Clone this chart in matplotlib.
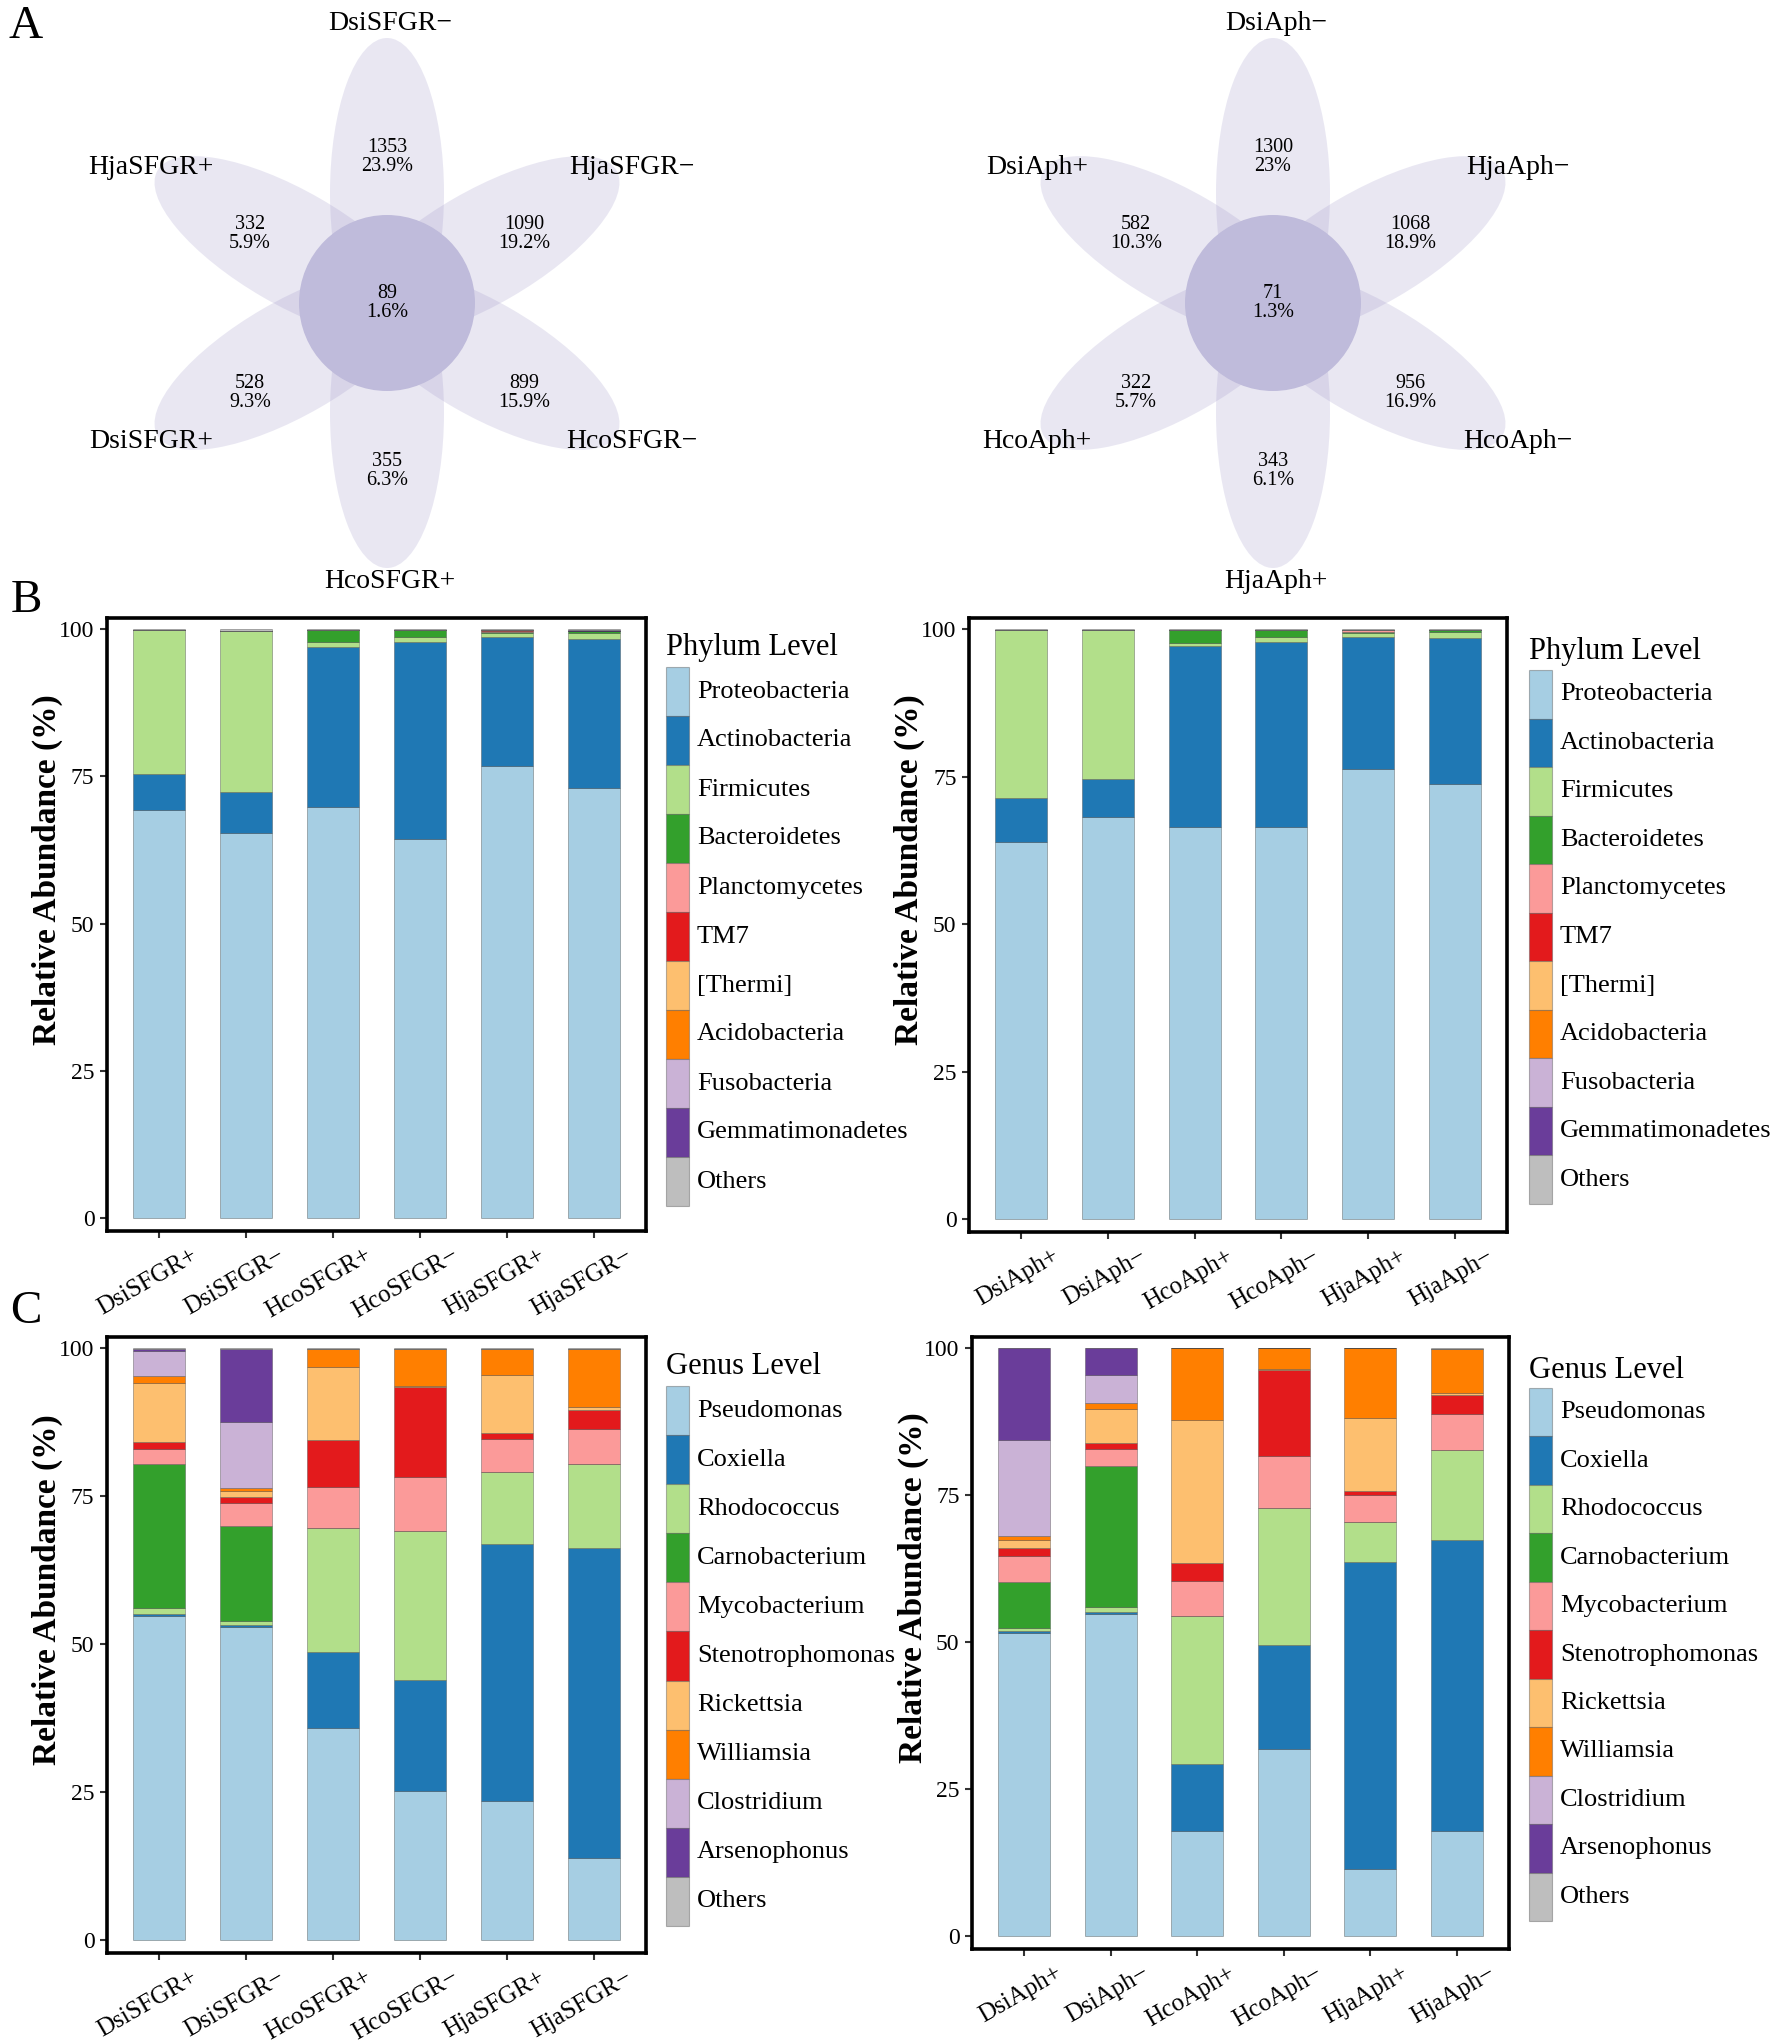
import numpy as np
import matplotlib
matplotlib.use("Agg")
import matplotlib.pyplot as plt
from matplotlib.patches import Ellipse, Circle, Rectangle
from matplotlib.transforms import ScaledTranslation

plt.rcParams['font.family'] = ['Liberation Serif', 'DejaVu Serif']

W, H = 1784, 2042

# ---- flower (Venn) data, petals clockwise from the top ----
sfgr_names = ["DsiSFGR−", "HjaSFGR−", "HcoSFGR−", "HcoSFGR+", "DsiSFGR+", "HjaSFGR+"]
sfgr_counts = [1353, 1090, 899, 355, 528, 332]
sfgr_pct = ["23.9%", "19.2%", "15.9%", "6.3%", "9.3%", "5.9%"]
sfgr_core = [89, "1.6%"]

aph_names = ["DsiAph−", "HjaAph−", "HcoAph−", "HjaAph+", "HcoAph+", "DsiAph+"]
aph_counts = [1300, 1068, 956, 343, 322, 582]
aph_pct = ["23%", "18.9%", "16.9%", "6.1%", "5.7%", "10.3%"]
aph_core = [71, "1.3%"]

# ---- stacked bar data (%) ----
sfgr_groups = ["DsiSFGR+", "DsiSFGR−", "HcoSFGR+", "HcoSFGR−", "HjaSFGR+", "HjaSFGR−"]
aph_groups = ["DsiAph+", "DsiAph−", "HcoAph+", "HcoAph−", "HjaAph+", "HjaAph−"]

phylum_names = ["Proteobacteria", "Actinobacteria", "Firmicutes", "Bacteroidetes",
                "Planctomycetes", "TM7", "[Thermi]", "Acidobacteria", "Fusobacteria",
                "Gemmatimonadetes", "Others"]
genus_names = ["Pseudomonas", "Coxiella", "Rhodococcus", "Carnobacterium", "Mycobacterium",
               "Stenotrophomonas", "Rickettsia", "Williamsia", "Clostridium", "Arsenophonus",
               "Others"]
colors = ["#A6CEE3", "#1F78B4", "#B2DF8A", "#33A02C", "#FB9A99", "#E31A1C",
          "#FDBF6F", "#FF7F00", "#CAB2D6", "#6A3D9A", "#BEBEBE"]

# phylum, SFGR samples
ph_sfgr = {
    "Proteobacteria":   [69.3, 65.4, 69.8, 64.4, 76.7, 73.1],
    "Actinobacteria":   [6.1, 6.9, 27.2, 33.5, 21.9, 25.2],
    "Firmicutes":       [24.4, 27.4, 0.9, 0.8, 0.7, 1.1],
    "Bacteroidetes":    [0.0, 0.0, 1.9, 1.1, 0.3, 0.3],
    "Planctomycetes":   [0.0, 0.0, 0.0, 0.0, 0.15, 0.0],
    "TM7":              [0.0, 0.0, 0.0, 0.0, 0.1, 0.0],
    "[Thermi]":         [0.0, 0.0, 0.0, 0.0, 0.0, 0.0],
    "Acidobacteria":    [0.0, 0.0, 0.0, 0.0, 0.0, 0.0],
    "Fusobacteria":     [0.0, 0.0, 0.0, 0.0, 0.0, 0.0],
    "Gemmatimonadetes": [0.05, 0.05, 0.0, 0.0, 0.0, 0.1],
}
# phylum, Aph samples
ph_aph = {
    "Proteobacteria":   [63.9, 68.2, 66.5, 66.4, 76.3, 73.7],
    "Actinobacteria":   [7.4, 6.4, 30.6, 31.5, 22.3, 24.8],
    "Firmicutes":       [28.6, 25.2, 0.6, 0.7, 0.7, 1.0],
    "Bacteroidetes":    [0.0, 0.0, 2.2, 1.2, 0.3, 0.3],
    "Planctomycetes":   [0.0, 0.0, 0.0, 0.0, 0.2, 0.0],
    "TM7":              [0.0, 0.0, 0.0, 0.0, 0.15, 0.0],
    "[Thermi]":         [0.0, 0.0, 0.0, 0.0, 0.0, 0.0],
    "Acidobacteria":    [0.0, 0.0, 0.0, 0.0, 0.0, 0.0],
    "Fusobacteria":     [0.0, 0.0, 0.0, 0.0, 0.0, 0.0],
    "Gemmatimonadetes": [0.0, 0.1, 0.0, 0.0, 0.0, 0.1],
}
# genus, SFGR samples
ge_sfgr = {
    "Pseudomonas":      [54.7, 52.9, 35.9, 25.2, 23.5, 13.9],
    "Coxiella":         [0.4, 0.4, 12.7, 18.8, 43.4, 52.4],
    "Rhodococcus":      [1.0, 0.6, 21.1, 25.1, 12.2, 14.2],
    "Carnobacterium":   [24.4, 16.1, 0.0, 0.0, 0.0, 0.0],
    "Mycobacterium":    [2.5, 3.8, 6.9, 9.2, 5.5, 5.9],
    "Stenotrophomonas": [1.1, 1.0, 7.9, 15.1, 1.1, 3.2],
    "Rickettsia":       [10.1, 1.0, 12.4, 0.2, 9.8, 0.4],
    "Williamsia":       [1.1, 0.6, 3.0, 6.2, 4.4, 9.8],
    "Clostridium":      [4.3, 11.1, 0.0, 0.0, 0.0, 0.0],
    "Arsenophonus":     [0.3, 12.4, 0.0, 0.0, 0.0, 0.0],
}
# genus, Aph samples
ge_aph = {
    "Pseudomonas":      [51.5, 54.7, 17.9, 31.9, 11.4, 17.9],
    "Coxiella":         [0.4, 0.4, 11.4, 17.6, 52.3, 49.5],
    "Rhodococcus":      [0.5, 0.9, 25.1, 23.3, 6.8, 15.3],
    "Carnobacterium":   [7.9, 24.0, 0.0, 0.0, 0.0, 0.0],
    "Mycobacterium":    [4.4, 2.8, 6.0, 8.8, 4.6, 6.1],
    "Stenotrophomonas": [1.3, 1.1, 3.0, 14.7, 0.6, 3.2],
    "Rickettsia":       [1.3, 5.8, 24.4, 0.2, 12.5, 0.4],
    "Williamsia":       [0.7, 1.0, 12.2, 3.5, 11.8, 7.5],
    "Clostridium":      [16.3, 4.8, 0.0, 0.0, 0.0, 0.0],
    "Arsenophonus":     [15.7, 4.5, 0.0, 0.0, 0.0, 0.0],
}


def frac(x0, y0, x1, y1):
    # pixel box (top-left origin) -> figure fraction rect
    return [x0 / W, 1 - y1 / H, (x1 - x0) / W, (y1 - y0) / H]


fig = plt.figure(figsize=(W / 100, H / 100), dpi=100)

# ---------------- A: flower diagrams ----------------
fa = fig.add_axes(frac(0, 0, W, 600))
fa.set_xlim(0, W)
fa.set_ylim(600, 0)
fa.axis("off")

petal_dirs = [90, 30, -30, -90, -150, 150]   # degrees, screen up = 90
label_off = [(3, -279), (245, -136), (245, 138), (3, 279), (-236, 138), (-236, -136)]
count_off = [(0, -146), (137, -69), (137, 90), (0, 168), (-137, 90), (-137, -69)]


def flower(cx, cy, names, counts, pct, core):
    for i, ang in enumerate(petal_dirs):
        r = np.deg2rad(ang)
        dx, dy = np.cos(r), -np.sin(r)
        e = Ellipse((cx + 110 * dx, cy + 110 * dy), width=310, height=114,
                    angle=np.rad2deg(np.arctan2(dy, dx)),
                    facecolor="#9C94C8", alpha=0.22, edgecolor="none")
        fa.add_patch(e)
    fa.add_patch(Circle((cx, cy), 88, facecolor="#BFBBDB", edgecolor="none"))
    for i in range(6):
        fa.text(cx + label_off[i][0], cy + label_off[i][1], names[i],
                fontsize=20, ha="center", va="center")
        fa.text(cx + count_off[i][0], cy + count_off[i][1],
                f"{counts[i]}\n{pct[i]}", fontsize=14.5, ha="center",
                va="center", linespacing=0.95)
    fa.text(cx, cy, f"{core[0]}\n{core[1]}", fontsize=14.5, ha="center",
            va="center", linespacing=0.95)


flower(387, 303, sfgr_names, sfgr_counts, sfgr_pct, sfgr_core)
flower(1273, 303, aph_names, aph_counts, aph_pct, aph_core)


# ---------------- B / C: stacked bars ----------------
def bars(box, groups, data, names, title, legend_pos):
    ax = fig.add_axes(frac(*box))
    x = np.arange(len(groups))
    bottom = np.zeros(len(groups))
    for name, c in zip(names, colors):
        if name == "Others":
            vals = np.clip(100 - bottom, 0, None)
        else:
            vals = np.array(data[name])
        ax.bar(x, vals, bottom=bottom, width=0.6, color=c,
               edgecolor=(0.2, 0.2, 0.2, 0.35), linewidth=0.7)
        bottom = bottom + vals
    ax.set_xlim(-0.6, 5.6)
    ax.set_ylim(-2.2, 101.9)
    ax.set_yticks([0, 25, 50, 75, 100])
    ax.set_xticks(x)
    ax.tick_params(axis="y", labelsize=17, length=5, width=1.5,
                   color="#333333", pad=4)
    ax.tick_params(axis="x", length=5, width=1.5, color="#333333", pad=4.5)
    ax.set_xticklabels(groups, rotation=30, ha="right", va="top",
                       rotation_mode="anchor", fontsize=18)
    # shift the rotated labels so their upper end sits right of the tick
    for lab in ax.get_xticklabels():
        lab.set_transform(lab.get_transform() +
                          ScaledTranslation(0.31, 0.0, fig.dpi_scale_trans))
    for s in ax.spines.values():
        s.set_linewidth(2.6)
    ax.set_ylabel("Relative Abundance (%)", fontsize=24, fontweight="bold")
    ax.yaxis.set_label_coords(-0.081, 0.59)

    # legend drawn as boxes + text in pixel coords
    lx, ty, y0, y1 = legend_pos
    fig.text(lx / W, 1 - ty / H, title, fontsize=22, ha="left", va="center")
    step = (y1 - y0) / len(names)
    for i, (name, c) in enumerate(zip(names, colors)):
        top = y0 + i * step
        fig.add_artist(Rectangle((lx / W, 1 - (top + step) / H), 23 / W, step / H,
                                 transform=fig.transFigure, facecolor=c,
                                 edgecolor=(0.3, 0.3, 0.3, 0.4), linewidth=0.8))
        fig.text((lx + 31) / W, 1 - (top + step / 2) / H, name, fontsize=19,
                 ha="left", va="center")
    return ax


bars((107, 618, 646, 1231), sfgr_groups, ph_sfgr, phylum_names, "Phylum Level",
     (666, 648, 667, 1206))
bars((969, 618, 1507, 1232), aph_groups, ph_aph, phylum_names, "Phylum Level",
     (1529, 651, 670, 1204))
bars((107, 1337, 646, 1953), sfgr_groups, ge_sfgr, genus_names, "Genus Level",
     (666, 1367, 1386, 1926))
bars((972, 1337, 1509, 1949), aph_groups, ge_aph, genus_names, "Genus Level",
     (1529, 1371, 1388, 1921))

# panel letters
for letter, y in [("A", 27), ("B", 601), ("C", 1312)]:
    fig.text(26 / W, 1 - y / H, letter, fontsize=34, ha="center", va="center")

fig.savefig("out.png", dpi=100)
